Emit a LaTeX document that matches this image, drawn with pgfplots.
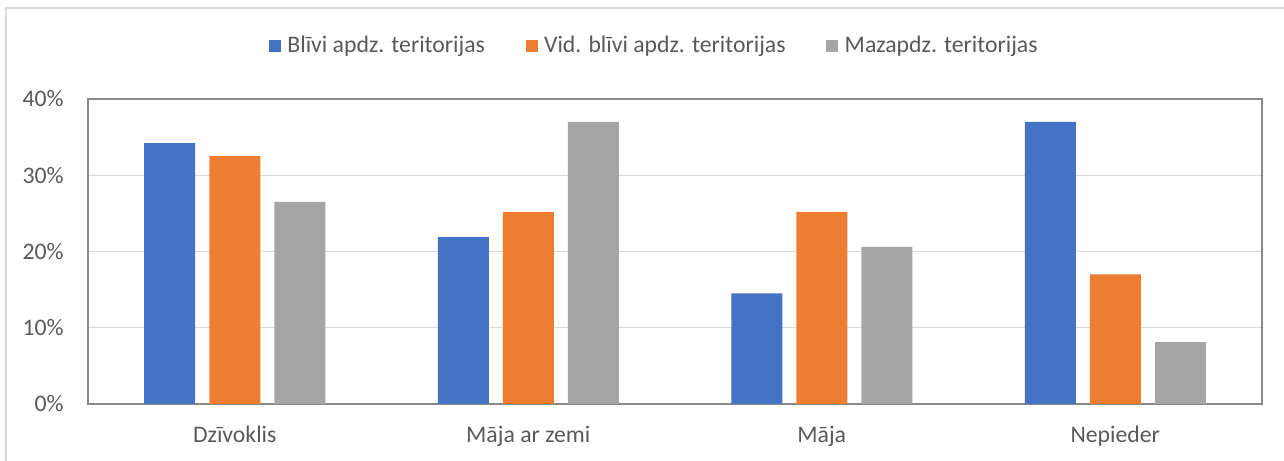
\documentclass[border=0pt]{standalone}
\usepackage{pgfplots}
\pgfplotsset{compat=1.18}
\usepackage{fontspec}
\setmainfont{Carlito}
\definecolor{cblue}{HTML}{4472C4}
\definecolor{corange}{HTML}{ED7D31}
\definecolor{cgray}{HTML}{A5A5A5}
\definecolor{txt}{HTML}{595959}
\definecolor{gridc}{HTML}{D9D9D9}
\definecolor{boxc}{HTML}{898989}

\begin{document}
\begin{tikzpicture}
\fontsize{13.5}{15}\selectfont
\useasboundingbox (0,0) rectangle (25.68cm,9.22cm);
\draw[gridc, line width=1pt] (0.12cm,0) -- (0.12cm,9.06cm) -- (25.68cm,9.06cm);
\begin{axis}[
  at={(1.76cm,1.14cm)}, anchor=south west,
  scale only axis,
  width=23.48cm, height=6.1cm,
  ybar=0.28cm, bar width=1.02cm,
  xmin=-0.5, xmax=3.5,
  ymin=0, ymax=40,
  xtick={0,1,2,3},
  xticklabels={Dzīvoklis, Māja ar zemi, Māja, Nepieder},
  ytick={0,10,20,30,40},
  yticklabel={\pgfmathprintnumber{\tick}\%},
  /pgf/number format/assume math mode=true,
  major tick length=0pt,
  ymajorgrids,
  grid style={gridc, line width=0.6pt},
  axis line style={boxc, line width=0.9pt},
  tick label style={font=\fontsize{13.5}{15}\selectfont, text=txt},
  xticklabel style={anchor=base, inner sep=0pt, yshift=-0.78cm},
  yticklabel style={anchor=east, inner sep=0pt, xshift=-0.48cm},
  legend columns=3,
  legend style={at={(0.483,1)}, anchor=center, yshift=1.06cm, draw=none,
    font=\fontsize{13.5}{15}\selectfont, text=txt,
    /tikz/every odd column/.append style={column sep=0.06cm},
    /tikz/every even column/.append style={column sep=0.74cm}},
  legend image code/.code={\fill[#1] (0cm,-0.12cm) rectangle (0.24cm,0.12cm);},
]
\addplot[fill=cblue, draw=none] coordinates {(0,34.2) (1,21.9) (2,14.5) (3,37.0)};
\addplot[fill=corange, draw=none] coordinates {(0,32.5) (1,25.2) (2,25.2) (3,17.0)};
\addplot[fill=cgray, draw=none] coordinates {(0,26.5) (1,37.0) (2,20.6) (3,8.1)};
\legend{Blīvi apdz. teritorijas, Vid. blīvi apdz. teritorijas, Mazapdz. teritorijas}
\end{axis}
\end{tikzpicture}
\end{document}
